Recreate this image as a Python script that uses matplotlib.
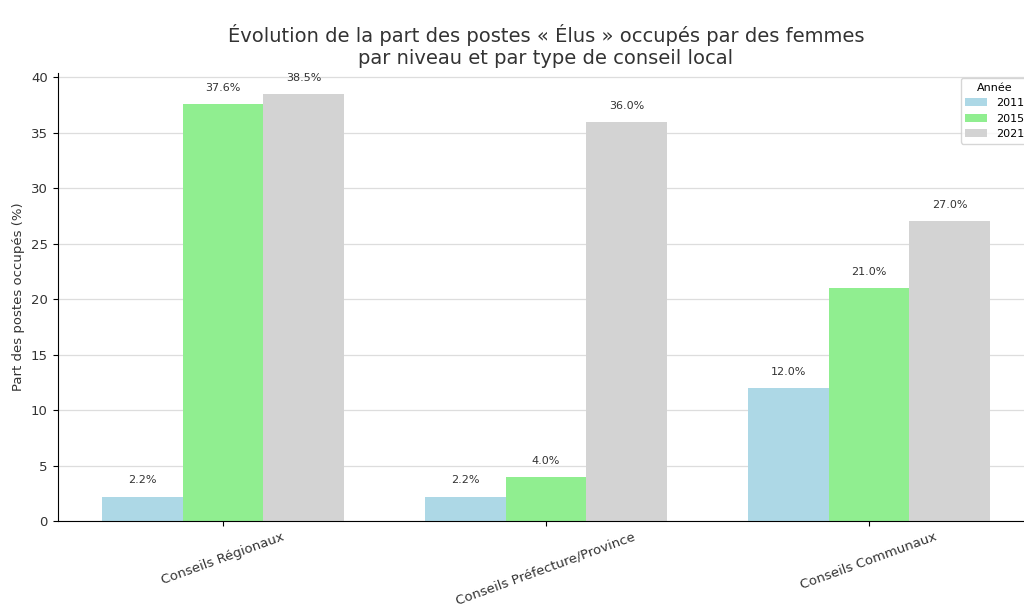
import numpy as np
import matplotlib
matplotlib.use("Agg")
from matplotlib import pyplot as plt

# data
conseils = ["Conseils Régionaux", "Conseils Préfecture/Province", "Conseils Communaux"]
annees = ["2011", "2015", "2021"]
part_2011 = [2.2, 2.2, 12.0]
part_2015 = [37.6, 4.0, 21.0]
part_2021 = [38.5, 36.0, 27.0]
couleurs = ["lightblue", "lightgreen", "lightgray"]

fig = plt.figure(figsize=(10.24, 6.06), dpi=100)
ax = fig.add_axes([0.0562, 0.1403, 0.954, 0.740])

x = np.arange(len(conseils))
w = 0.25
series = [part_2011, part_2015, part_2021]

for i, (vals, annee, c) in enumerate(zip(series, annees, couleurs)):
    bars = ax.bar(x + (i - 1) * w, vals, w, label=annee, color=c)
    # value labels on top of each bar
    for b, v in zip(bars, vals):
        ax.text(b.get_x() + b.get_width() / 2, v + 1, "%.1f%%" % v,
                ha="center", va="bottom", fontsize=8, color="#333333")

ax.set_xticks(x)
ax.set_xticklabels(conseils, rotation=20, fontsize=9.5, color="#333333")
ax.tick_params(axis="y", labelsize=9.5, labelcolor="#333333")
ax.set_ylabel("Part des postes occupés (%)", fontsize=9.5, color="#333333")
ax.set_title("Évolution de la part des postes « Élus » occupés par des femmes\n"
             "par niveau et par type de conseil local", fontsize=14, color="#333333")

ax.grid(axis="y", color="#dddddd", linewidth=0.9)
ax.set_axisbelow(True)
ax.spines["top"].set_visible(False)
ax.spines["right"].set_visible(False)

ax.legend(title="Année", loc="upper right", fontsize=8, title_fontsize=8)

fig.savefig("out.png", dpi=100)
